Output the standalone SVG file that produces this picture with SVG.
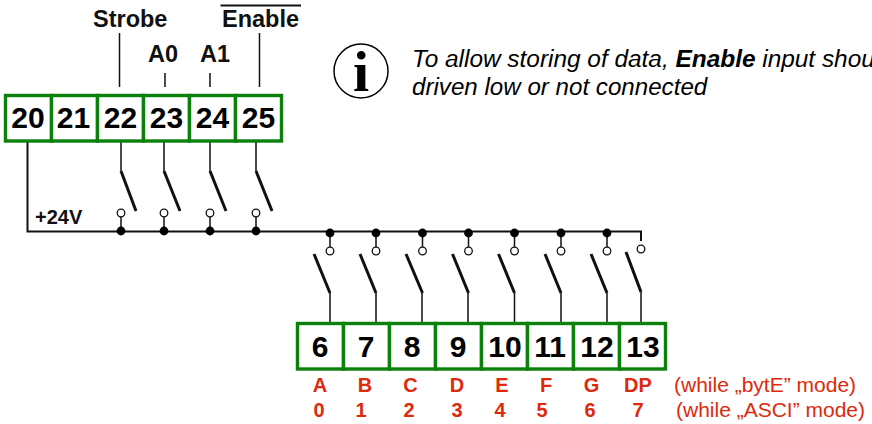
<svg xmlns="http://www.w3.org/2000/svg" width="872" height="424" viewBox="0 0 872 424">
<style>
text{font-family:"Liberation Sans",Arial,sans-serif}
.t{font-size:30px;font-weight:700;fill:#000;text-anchor:middle}
.l{font-size:23.500px;font-weight:700;fill:#111}
.r{font-size:20px;font-weight:700;fill:#dd2a0c;text-anchor:middle}
.n{font-size:21px;fill:#dd2a0c}
.i{font-style:italic;fill:#000}
.box{fill:#fff;stroke:#0b800b;stroke-width:3.4}
.w{fill:none;stroke:#111;stroke-width:1.5}
.s{fill:none;stroke:#111;stroke-width:3}
.b{fill:none;stroke:#111;stroke-width:2}
.o{fill:#fff;stroke:#111;stroke-width:1.3}
.d{fill:#000}
</style>
<rect width="872" height="424" fill="#fff"/>
<g id="connectors">
<path class="w" d="M119.500 33V87M165 73V87M210 73V87M259.500 33V87"/>
<path class="b" d="M27.500 141V231.500H641V241"/>
<path class="w" d="M121 141V171M164 141V171M210 141V171M256 141V171"/>
<path class="s" d="M121 171L136 211M164 171L180 211M210 171L226 211M256 171L272 211"/>
<path class="w" d="M121 214V231M164 214V231M210 214V231M256 214V231"/>
<path class="w" d="M330 231V247M376 231V247M422.500 231V247M468.500 231V247M514.500 231V247M561 231V247M607 231V247"/>
<path class="s" d="M314 254L330 293M360 254L376 293M406 254L422.500 293M452.500 254L468.500 293M498.500 254L514.500 293M545 254L561 293M591 254L607 293M626 252L641 292"/>
<path class="w" d="M330 293V323M376 293V323M422 293V323M468 293V323M514.500 293V323M561 293V323M607 293V323M641 292V323"/>
<g id="junctions" class="d">
<circle cx="121" cy="231" r="4.400"/><circle cx="164" cy="231" r="4.400"/><circle cx="210" cy="231" r="4.400"/><circle cx="256" cy="231" r="4.400"/>
<circle cx="330" cy="233" r="4.400"/><circle cx="376" cy="233" r="4.400"/><circle cx="422.500" cy="233" r="4.400"/><circle cx="468.500" cy="233" r="4.400"/><circle cx="514.500" cy="233" r="4.400"/><circle cx="561" cy="233" r="4.400"/><circle cx="607" cy="233" r="4.400"/>
</g>
<g id="contacts">
<circle class="o" cx="121" cy="213" r="3.800"/><circle class="o" cx="164" cy="213" r="3.800"/><circle class="o" cx="210" cy="213" r="3.800"/><circle class="o" cx="256" cy="213" r="3.800"/>
<circle class="o" cx="330" cy="251" r="3.800"/><circle class="o" cx="376" cy="251" r="3.800"/><circle class="o" cx="422.500" cy="251" r="3.800"/><circle class="o" cx="468.500" cy="251" r="3.800"/><circle class="o" cx="514.500" cy="251" r="3.800"/><circle class="o" cx="561" cy="251" r="3.800"/><circle class="o" cx="607" cy="251" r="3.800"/><circle class="o" cx="641" cy="249" r="3.800"/>
</g>
</g>
<g id="t20"><rect class="box" x="5.500" y="95.500" width="46" height="45.500"/><text class="t" x="28" y="128">20</text></g>
<g id="t21"><rect class="box" x="51.500" y="95.500" width="46" height="45.500"/><text class="t" x="73.500" y="128">21</text></g>
<g id="t22"><rect class="box" x="97.500" y="95.500" width="46" height="45.500"/><text class="t" x="120.500" y="128">22</text></g>
<g id="t23"><rect class="box" x="143.500" y="95.500" width="46" height="45.500"/><text class="t" x="166.500" y="128">23</text></g>
<g id="t24"><rect class="box" x="189.500" y="95.500" width="46" height="45.500"/><text class="t" x="212.500" y="128">24</text></g>
<g id="t25"><rect class="box" x="235.500" y="95.500" width="46" height="45.500"/><text class="t" x="258.500" y="128">25</text></g>
<g id="t6"><rect class="box" x="297.500" y="323.500" width="46" height="45.500"/><text class="t" x="320" y="357">6</text></g>
<g id="t7"><rect class="box" x="343.500" y="323.500" width="46" height="45.500"/><text class="t" x="366" y="357">7</text></g>
<g id="t8"><rect class="box" x="389.500" y="323.500" width="46" height="45.500"/><text class="t" x="412" y="357">8</text></g>
<g id="t9"><rect class="box" x="435.500" y="323.500" width="46" height="45.500"/><text class="t" x="458" y="357">9</text></g>
<g id="t10"><rect class="box" x="481.500" y="323.500" width="46" height="45.500"/><text class="t" x="505" y="357">10</text></g>
<g id="t11"><rect class="box" x="527.500" y="323.500" width="46" height="45.500"/><text class="t" x="550" y="357">11</text></g>
<g id="t12"><rect class="box" x="573.500" y="323.500" width="46" height="45.500"/><text class="t" x="597" y="357">12</text></g>
<g id="t13"><rect class="box" x="619.500" y="323.500" width="46" height="45.500"/><text class="t" x="643" y="357">13</text></g>
<g id="labels">
<text class="l" x="93" y="27">Strobe</text>
<text class="l" x="148" y="62">A0</text>
<text class="l" x="200" y="62">A1</text>
<text class="l" x="222" y="27">Enable</text>
<path d="M220.500 5.500H301" fill="none" stroke="#111" stroke-width="2"/>
<text x="35" y="224" font-size="20" font-weight="700" fill="#111">+24V</text>
</g>
<g id="info">
<circle cx="361" cy="71" r="27" fill="#fff" stroke="#000" stroke-width="1.500"/>
<text x="361" y="91" font-size="58" font-weight="700" text-anchor="middle" style="font-family:'Liberation Serif',serif">i</text>
<text class="i" x="412" y="67" font-size="24.400">To allow storing of data, <tspan font-weight="700">Enable</tspan> input shou</text>
<text class="i" x="412" y="95" font-size="24.150">driven low or not connected</text>
</g>
<g id="modes">
<text class="r" x="320" y="392">A</text><text class="r" x="365" y="392">B</text><text class="r" x="410.500" y="392">C</text><text class="r" x="457" y="392">D</text><text class="r" x="502" y="392">E</text><text class="r" x="546" y="392">F</text><text class="r" x="591.500" y="392">G</text><text class="r" x="638" y="392">DP</text>
<text class="n" x="674" y="392">(while „bytE” mode)</text>
<text class="r" x="319" y="417">0</text><text class="r" x="361" y="417">1</text><text class="r" x="409" y="417">2</text><text class="r" x="457" y="417">3</text><text class="r" x="500" y="417">4</text><text class="r" x="542" y="417">5</text><text class="r" x="590" y="417">6</text><text class="r" x="638" y="417">7</text>
<text class="n" x="676" y="417">(while „ASCI” mode)</text>
</g>
</svg>
